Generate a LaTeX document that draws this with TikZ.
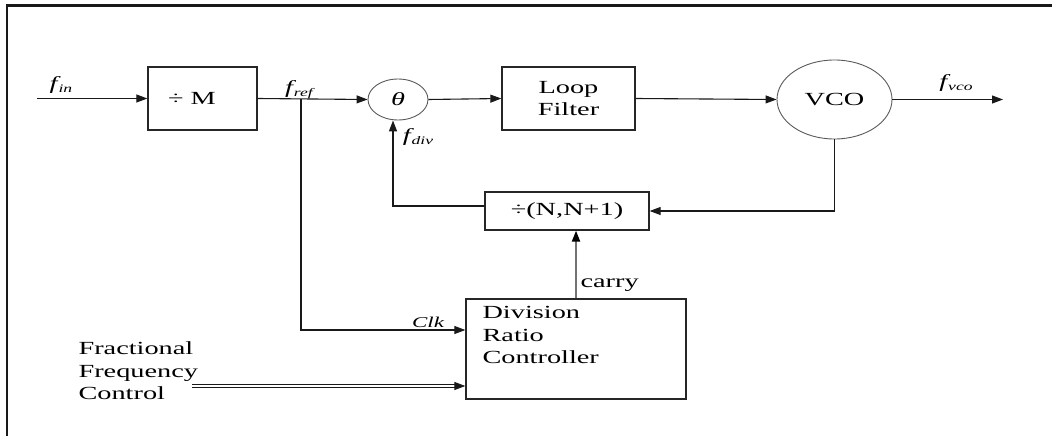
\documentclass[tikz,border=0pt]{standalone}
\usepackage{fontspec}
\setmainfont{Liberation Serif}[FakeStretch=1.53]
\usetikzlibrary{arrows.meta,shapes.geometric}
\newcommand{\fsub}[1]{{\itshape f\kern1pt\raisebox{-0.35ex}{\fontsize{11.5}{12}\selectfont #1}}}
\begin{document}
\begin{tikzpicture}[x=1pt,y=-1pt,
  font=\fontsize{18.5}{22.5}\selectfont,
  line width=1.1pt, draw=black!90,
  blk/.style={draw=black!85, line width=1.3pt, inner sep=0pt, align=center},
  ell/.style={draw=black!65, line width=0.9pt, ellipse, inner sep=0pt},
  arr/.style={-{Triangle[length=11pt,width=8pt]}},
  lbl/.style={inner sep=0pt}
]
\useasboundingbox (0,0) rectangle (1052,436);
% frame
\draw[line width=2.7pt, black!90] (7,436) -- (7,5.3) -- (1052,5.3);

% blocks
\node[draw=black!85, line width=1.3pt, inner sep=0pt, minimum width=109pt, minimum height=63pt] (divM) at (202.5,98.5) {\makebox[109pt][l]{\kern20pt÷ M}};
\node[ell, minimum width=60pt, minimum height=41pt] (theta) at (398,99.5) {\itshape θ};
\node[blk, minimum width=133pt, minimum height=63pt] (loop) at (568.5,98.5) {Loop\\[-1pt]Filter};
\node[ell, minimum width=115pt, minimum height=79pt] (vco) at (834.5,99.5) {VCO};
\node[blk, minimum width=164pt, minimum height=38pt] (divN) at (567,211) {÷(N,N+1)};
\node[blk, minimum width=220pt, minimum height=100pt] (drc) at (576,349) {};
\node[lbl, anchor=north west, align=left] (drctxt) at (482,306) {Division\\Ratio\\Controller};
\node[lbl, anchor=west, align=left] (ffc) at (78,371) {Fractional\\Frequency\\Control};

% coordinates
\coordinate (fin) at (37,98.5);
\coordinate (fref) at (301,98.5);
\coordinate (clkc) at (301,330);
\coordinate (vout) at (1003,99.5);
\coordinate (fdivc) at (393,206);
\coordinate (ffcend) at (192,386);
\coordinate (dlend) at (456,386);

% labels
\node[lbl] (finlbl) at (61,85) {\fsub{in}};
\node[lbl] (freflbl) at (299,90) {\fsub{ref}};
\node[lbl] (fdivlbl) at (418,137) {\fsub{div}};
\node[lbl] (fvcolbl) at (956,83) {\fsub{vco}};
\node[lbl, font=\fontsize{15}{15}\selectfont\itshape] (clklbl) at (428,322) {Clk};
\node[lbl, anchor=west] (carrylbl) at (580,285) {carry};

% connectors
\draw[arr] (fin) -- (divM.west);
\draw[arr] (divM.east) -- (theta.west);
\draw[arr] (theta.east) -- (loop.west);
\draw[arr] (loop.east) -- (vco.west);
\draw[arr] (vco.east) -- (vout);
\draw[arr] (vco.south) |- (divN.east);
\draw[arr, line width=1.5pt] ([yshift=5pt]divN.west) -- (fdivc) -- (fdivc |- theta.south);
\draw[arr] (fref) -- (clkc) -- (clkc -| drc.west);
\draw[draw=black!55, line width=2pt, -{Triangle[length=11pt,width=8pt,color=black]}] (drc.north) -- (drc.north |- divN.south);
\draw[double=white, double distance=1.4pt, line width=0.9pt] (ffcend) -- (dlend);
\draw[arr] ([xshift=-1pt]dlend) -- (dlend -| drc.west);
\end{tikzpicture}
\end{document}
